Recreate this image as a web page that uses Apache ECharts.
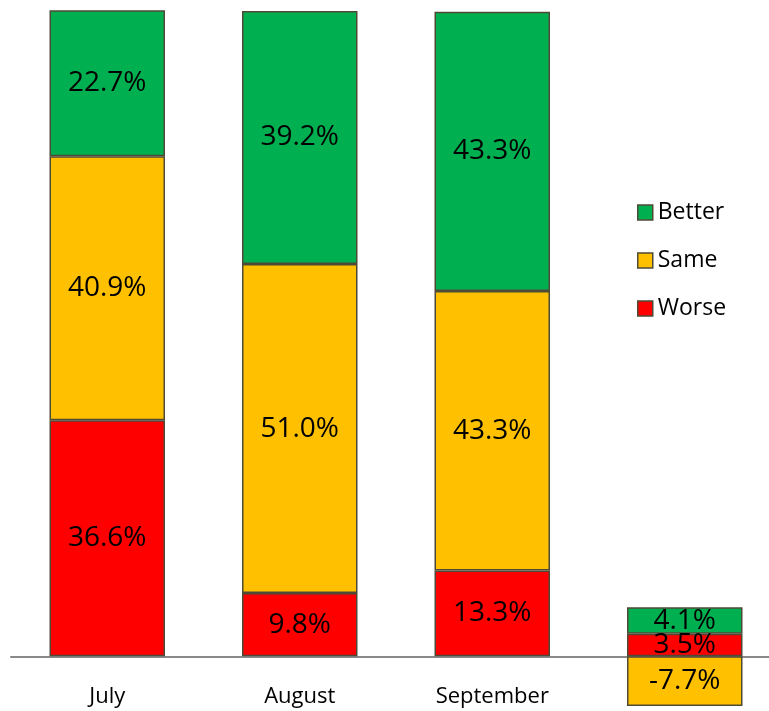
<!DOCTYPE html>
<html>
<head>
<meta charset="utf-8">
<script src="https://cdn.jsdelivr.net/npm/echarts@6/dist/echarts.min.js"></script>
<style>
  html, body { margin: 0; padding: 0; background: #fff; }
  #chart { width: 769px; height: 711px; }
</style>
</head>
<body>
<div id="chart"></div>
<script>
// categories (last column has no label)
var months = ['July', 'August', 'September', '']
var worse = [36.6, 9.8, 13.3, 3.5]
var same = [40.9, 51.0, 43.3, -7.7]
var better = [22.7, 39.2, 43.3, 4.1]

var chart = echarts.init(document.getElementById('chart'))

function pct(p) {
  return p.value.toFixed(1) + '%'
}

function barSeries(name, data, color) {
  return {
    name: name,
    type: 'bar',
    stack: 'total',
    barWidth: '60%',
    data: data,
    itemStyle: {
      color: color,
      borderColor: '#4f4a36',
      borderWidth: 1.5
    },
    label: {
      show: true,
      position: 'inside',
      formatter: pct,
      color: '#000',
      fontSize: 28,
      fontFamily: 'Open Sans'
    }
  }
}

chart.setOption({
  animation: false,
  textStyle: { fontFamily: 'Open Sans' },
  grid: {
    left: 11,
    right: -12,
    top: 11,
    bottom: 3,
    outerBoundsMode: 'none',
    containLabel: false
  },
  legend: {
    data: ['Better', 'Same', 'Worse'],
    orient: 'vertical',
    left: 632,
    top: 196,
    icon: 'rect',
    itemWidth: 15,
    itemHeight: 15,
    itemGap: 25,
    itemStyle: { borderColor: '#4f4a36', borderWidth: 1.5 },
    textStyle: { fontSize: 23, color: '#000', fontFamily: 'Open Sans' }
  },
  xAxis: [{
    // axis line through zero
    type: 'category',
    data: months,
    axisLine: { lineStyle: { color: '#898989', width: 2 } },
    axisTick: { show: false },
    axisLabel: { show: false }
  }, {
    // month labels along the bottom edge
    type: 'category',
    data: months,
    position: 'bottom',
    axisLine: { show: false, onZero: false },
    axisTick: { show: false },
    axisLabel: { inside: true, margin: 0, color: '#000', fontSize: 22, fontFamily: 'Open Sans' }
  }],
  yAxis: {
    type: 'value',
    min: -8,
    max: 100,
    show: false,
    splitLine: { show: false }
  },
  series: [
    barSeries('Worse', worse, '#ff0000'),
    barSeries('Same', same, '#ffc000'),
    barSeries('Better', better, '#00b050')
  ]
})
</script>
</body>
</html>
